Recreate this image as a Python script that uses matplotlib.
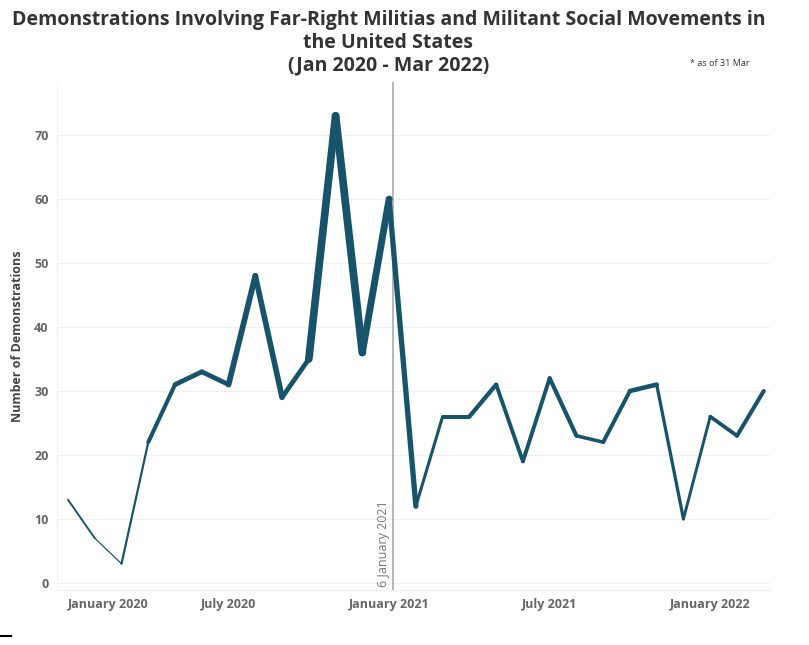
import matplotlib.pyplot as plt
import numpy as np
from matplotlib.collections import LineCollection
from matplotlib.lines import Line2D
from matplotlib.transforms import ScaledTranslation

# monthly counts, Jan 2020 - Mar 2022
months = ['Jan 2020', 'Feb 2020', 'Mar 2020', 'Apr 2020', 'May 2020', 'Jun 2020',
          'Jul 2020', 'Aug 2020', 'Sep 2020', 'Oct 2020', 'Nov 2020', 'Dec 2020',
          'Jan 2021', 'Feb 2021', 'Mar 2021', 'Apr 2021', 'May 2021', 'Jun 2021',
          'Jul 2021', 'Aug 2021', 'Sep 2021', 'Oct 2021', 'Nov 2021', 'Dec 2021',
          'Jan 2022', 'Feb 2022', 'Mar 2022']
counts = [13, 7, 3, 22, 31, 33, 31, 48, 29, 35, 73, 36,
          60, 12, 26, 26, 31, 19, 32, 23, 22, 30, 31, 10,
          26, 23, 30]
tick_idx = [0, 6, 12, 18, 24]
tick_labels = ['January 2020', 'July 2020', 'January 2021', 'July 2021', 'January 2022']
event_label = '6 January 2021'
title_lines = ['Demonstrations Involving Far-Right Militias and Militant Social Movements in',
               'the United States',
               '(Jan 2020 - Mar 2022)']

plt.rcParams['font.family'] = ['Open Sans', 'DejaVu Sans']

fig = plt.figure(figsize=(8.09, 6.45), dpi=100)
ax = fig.add_axes([0.0705, 0.0853, 0.8815, 0.7877])

x = np.arange(len(counts))
y = np.array(counts, dtype=float)
pts = np.column_stack([x, y]).reshape(-1, 1, 2)
segs = np.concatenate([pts[:-1], pts[1:]], axis=1)
widths = 0.4 + 0.095 * (y[:-1] + y[1:]) / 2
lc = LineCollection(segs, linewidths=widths, colors='#17536a', capstyle='round', joinstyle='round', zorder=3)
ax.add_collection(lc)

# 6 January 2021 marker
ev_x = 12 + 5 / 31
ax.axvline(ev_x, color='#aaaaaa', lw=1.2, zorder=2)
ax.text(ev_x - 0.12, -0.6, event_label, rotation=90, ha='right', va='bottom',
        fontsize=9, color='#777777')

ax.set_xlim(-0.41, 26.24)
ax.set_ylim(-1.1, 78.3)
ax.set_yticks(range(0, 80, 10))
ax.set_xticks(tick_idx)
ax.set_xticklabels(tick_labels)
first = ax.get_xticklabels()[0]
first.set_horizontalalignment('left')
first.set_transform(first.get_transform() + ScaledTranslation(-8 / 72, 0, fig.dpi_scale_trans))
for lab in ax.get_xticklabels() + ax.get_yticklabels():
    lab.set_fontweight('bold')
    lab.set_color('#666666')
    lab.set_fontsize(9)
ax.tick_params(length=0, pad=6)
ax.grid(axis='y', color='#f0f0f0', lw=0.8)
ax.set_axisbelow(True)
for side in ['top', 'right']:
    ax.spines[side].set_visible(False)
ax.spines['left'].set_color('#f0f0f0')
ax.spines['bottom'].set_color('#f0f0f0')
ax.set_ylabel('Number of Demonstrations', fontsize=9, fontweight='bold', color='#444444', labelpad=7)

for i, line in enumerate(title_lines):
    fig.text(0.48, 1 - (20 + 22.5 * i) / 645, line, ha='center', va='center',
             fontsize=14, fontweight='bold', color='#333333')
fig.text(0.853, 1 - 64 / 645, '* as of 31 Mar', fontsize=6.5, color='#333333', ha='left', va='center')

fig.add_artist(Line2D([0, 0.0136], [0.014, 0.014], color='black', lw=1.5))

fig.savefig('out.png', dpi=100)
